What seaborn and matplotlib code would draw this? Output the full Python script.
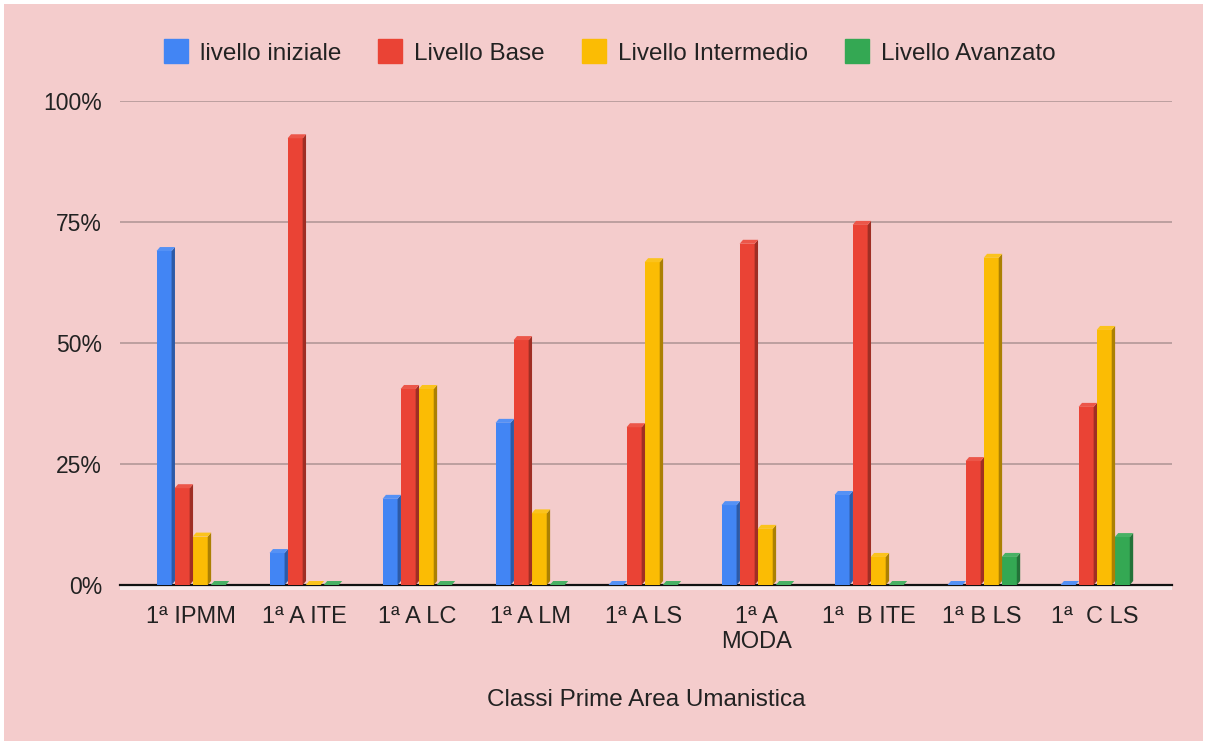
import numpy as np
import pandas as pd
import matplotlib
matplotlib.use("Agg")
import matplotlib.pyplot as plt
import matplotlib.colors as mcolors
from matplotlib.patches import Polygon, Rectangle
from matplotlib.lines import Line2D
from matplotlib.ticker import FuncFormatter
import seaborn as sns

# ── Data ─────────────────────────────────────────────────────────────────────
classi = ["1ª IPMM", "1ª A ITE", "1ª A LC", "1ª A LM", "1ª A LS",
          "1ª A\nMODA", "1ª  B ITE", "1ª B LS", "1ª  C LS"]
livelli = ["livello iniziale", "Livello Base", "Livello Intermedio", "Livello Avanzato"]

iniziale   = [0.69, 0.066, 0.178, 0.335, 0.0, 0.165, 0.186, 0.0, 0.0]
base       = [0.20, 0.923, 0.405, 0.506, 0.326, 0.705, 0.744, 0.256, 0.368]
intermedio = [0.10, 0.0, 0.405, 0.148, 0.667, 0.116, 0.058, 0.676, 0.527]
avanzato   = [0.0, 0.0, 0.0, 0.0, 0.0, 0.0, 0.0, 0.058, 0.099]

colori = ["#4285F4", "#EA4335", "#FBBC04", "#34A853"]
sfondo = "#F4CCCC"

df = pd.DataFrame({
    "classe": classi * 4,
    "livello": np.repeat(livelli, len(classi)),
    "valore": iniziale + base + intermedio + avanzato,
})

# ── Figure ───────────────────────────────────────────────────────────────────
sns.set_theme(style="white")
plt.rcParams["font.family"] = ["Liberation Sans", "DejaVu Sans"]

W, H = 1207, 745
fig = plt.figure(figsize=(W / 100, H / 100), dpi=100, facecolor="white")
fig.patches.append(Rectangle((4 / W, 4 / H), 1 - 8 / W, 1 - 8 / H,
                             transform=fig.transFigure, facecolor=sfondo,
                             edgecolor="none", zorder=-10))

ax_l, ax_r, ax_b, ax_t = 120, 1172, 585, 101
ax = fig.add_axes([ax_l / W, (H - ax_b) / H, (ax_r - ax_l) / W, (ax_b - ax_t) / H])
ax.set_facecolor("none")

sns.barplot(data=df, x="classe", y="valore", hue="livello", palette=colori,
            width=0.64, gap=0.17, saturation=1, legend=False, ax=ax,
            zorder=3, linewidth=0)

ax.set_xlim(-0.63, 8.68)
ax.set_ylim(0, 1)
ax.set_yticks([0, 0.25, 0.5, 0.75, 1.0])
ax.yaxis.set_major_formatter(FuncFormatter(lambda v, _: f"{v:.0%}"))
ax.grid(axis="y", color="#ad9393", linewidth=1.1, zorder=0)
ax.set_axisbelow(True)
for s in ["top", "right", "left"]:
    ax.spines[s].set_visible(False)
ax.spines["bottom"].set_color("#111111")
ax.spines["bottom"].set_linewidth(1.6)
ax.spines["bottom"].set_zorder(2)

ax.tick_params(axis="both", length=0, colors="#222222")
ax.tick_params(axis="y", pad=13, labelsize=16.5)
ax.tick_params(axis="x", pad=15, labelsize=17)
ax.set_xlabel("Classi Prime Area Umanistica", fontsize=17.5, color="#222222")
ax.xaxis.set_label_coords(0.5, -0.237)
ax.xaxis.label.set_va("center")
ax.set_ylabel("")

# ── 3D look: side and top faces from the drawn bars ──────────────────────────
px_x = (ax_r - ax_l) / (ax.get_xlim()[1] - ax.get_xlim()[0])
px_y = (ax_b - ax_t) / 1.0
dx, dy = 3.4 / px_x, 4.0 / px_y
for bar in list(ax.patches):
    x0, w, h = bar.get_x(), bar.get_width(), bar.get_height()
    c = np.array(mcolors.to_rgb(bar.get_facecolor()))
    side = Polygon([(x0 + w, 0), (x0 + w + dx, dy), (x0 + w + dx, h + dy), (x0 + w, h)],
                   closed=True, facecolor=c * 0.68, edgecolor="none", zorder=3)
    top = Polygon([(x0, h), (x0 + dx, h + dy), (x0 + w + dx, h + dy), (x0 + w, h)],
                  closed=True, facecolor=c * 0.9 + 0.1, edgecolor="none", zorder=3)
    ax.add_patch(side)
    ax.add_patch(top)

# floor strip below the axis line
ax.add_patch(Rectangle((0, -5 / px_y), 1, 4 / px_y, transform=ax.transAxes,
                       facecolor="#f7eded", edgecolor="none", clip_on=False, zorder=1))

# ── Legend ───────────────────────────────────────────────────────────────────
handles = [Line2D([], [], marker="s", linestyle="none", markersize=17,
                  markerfacecolor=c, markeredgecolor=c) for c in colori]
fig.legend(handles, livelli, loc="center", bbox_to_anchor=(0.505, 0.928),
           ncol=4, frameon=False, fontsize=17.5, handletextpad=0.5,
           columnspacing=1.5, handlelength=1.0, labelcolor="#222222")

fig.savefig("out.png", dpi=100, facecolor="white")
